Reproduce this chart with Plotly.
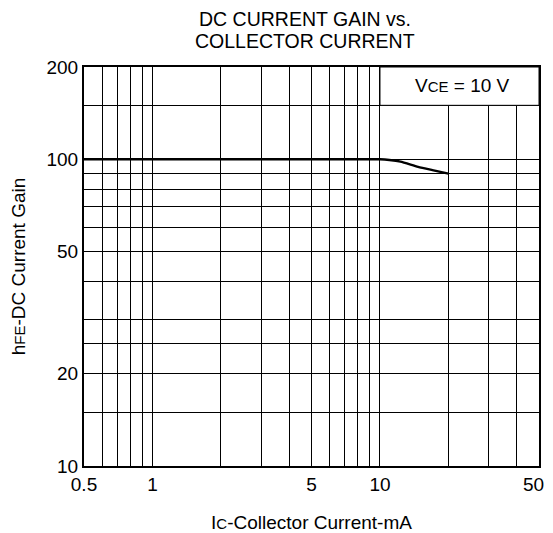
import math
import plotly.graph_objects as go

line_color = '#000000'
font_family = 'Liberation Sans, Arial, sans-serif'

# curve
ic_ma = [0.5, 1, 2, 5, 10, 11, 12.3, 14.7, 17, 20]
hfe = [100, 100, 100, 100, 100, 99.5, 98.3, 94.5, 92.2, 89.8]

# grid lines and labels (the last x label is drawn as an annotation so it stays inside the page)
x_grid = [0.5, 0.6, 0.7, 0.8, 0.9, 1, 2, 3, 4, 5, 6, 7, 8, 9, 10, 20, 30, 40, 50]
x_labels = {0.5: '0.5', 1: '1', 5: '5', 10: '10'}
x_last_label = '50'
y_grid = [10, 15, 20, 25, 30, 40, 50, 60, 70, 80, 90, 100, 150, 200]
y_labels = {10: '10', 20: '20', 50: '50', 100: '100', 200: '200'}

title_lines = ['DC CURRENT GAIN vs.', 'COLLECTOR CURRENT']

curve = go.Scatter(
    x=ic_ma,
    y=hfe,
    mode='lines',
    line=dict(color=line_color, width=2.4, shape='spline', smoothing=0.6),
    showlegend=False,
    hoverinfo='skip')

small = '<span style="font-size:15px">%s</span>'

axis_common = dict(
    type='log',
    ticks='',
    showgrid=True,
    gridcolor=line_color,
    gridwidth=1,
    zeroline=False,
    showline=True,
    linecolor=line_color,
    linewidth=2,
    mirror=True,
    automargin=False,
    tickfont=dict(size=19))

# the page body adds an 8px margin, so the figure is shrunk and shifted
layout = go.Layout(
    width=545,
    height=525,
    margin=dict(l=76, r=14, t=59, b=67),
    paper_bgcolor='white',
    plot_bgcolor='white',
    font=dict(family=font_family, size=19, color=line_color),
    xaxis=dict(
        axis_common,
        range=[math.log10(0.5), math.log10(50)],
        tickvals=x_grid,
        ticktext=[x_labels.get(v, '') for v in x_grid],
        title=dict(text='I' + small % 'C' + '-Collector Current-mA',
                   font=dict(size=19), standoff=22)),
    yaxis=dict(
        axis_common,
        range=[1, math.log10(200)],
        tickvals=y_grid,
        ticktext=[y_labels.get(v, '') for v in y_grid],
        title=dict(text='h' + small % 'FE' + '-DC Current Gain',
                   font=dict(size=19), standoff=25)),
    shapes=[dict(type='rect', xref='x', yref='y',
                 x0=10, x1=50, y0=150, y1=200,
                 fillcolor='white', line=dict(color=line_color, width=1),
                 layer='between')],
    annotations=[
        dict(xref='paper', yref='paper', x=0.485, y=1, yanchor='middle', yshift=59 - 11,
             text=title_lines[0], showarrow=False, font=dict(size=19.5)),
        dict(xref='paper', yref='paper', x=0.485, y=1, yanchor='middle', yshift=59 - 33,
             text=title_lines[1], showarrow=False, font=dict(size=19.5)),
        dict(xref='paper', yref='paper', x=1, y=0, xanchor='right', yanchor='middle',
             xshift=6, yshift=-18, text=x_last_label, showarrow=False,
             borderpad=0, font=dict(size=19)),
        dict(xref='x', yref='y', x=math.log10(23), y=math.log10(174),
             text='V' + small % 'CE' + ' = 10 V',
             showarrow=False, font=dict(size=19))])

fig = go.Figure(data=[curve], layout=layout)
fig.write_html("out.html")
